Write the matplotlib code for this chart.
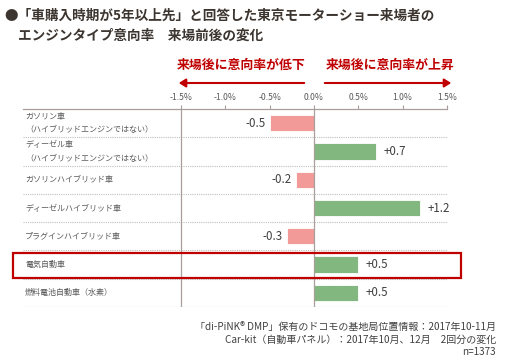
import matplotlib
matplotlib.use("Agg")
import matplotlib.pyplot as plt
from matplotlib.patches import Rectangle

plt.rcParams['font.family'] = ['Noto Sans CJK JP', 'DejaVu Sans']

categories = [
    "ガソリン車\n（ハイブリッドエンジンではない）",
    "ディーゼル車\n（ハイブリッドエンジンではない）",
    "ガソリンハイブリッド車",
    "ディーゼルハイブリッド車",
    "プラグインハイブリッド車",
    "電気自動車",
    "燃料電池自動車（水素）",
]
values = [-0.5, 0.7, -0.2, 1.2, -0.3, 0.5, 0.5]
value_labels = ["-0.5", "+0.7", "-0.2", "+1.2", "-0.3", "+0.5", "+0.5"]
tick_values = [-1.5, -1.0, -0.5, 0.0, 0.5, 1.0, 1.5]
tick_labels = ["-1.5%", "-1.0%", "-0.5%", "0.0%", "0.5%", "1.0%", "1.5%"]

W, H = 529, 364
fig = plt.figure(figsize=(W / 100, H / 100), dpi=100)

def fx(px):
    return px / W

def fy(py):
    return 1 - py / H

# axes in pixel space: x 23..447, y 109..307
ax = fig.add_axes([fx(23), fy(307), fx(447) - fx(23), fy(109) - fy(307)])
scale = (447 - 314) / 1.5
xmin = (23 - 314) / scale
ax.set_xlim(xmin, 1.5)
ax.set_ylim(len(categories) - 0.5, -0.5)

red_c = "#F19A98"
green_c = "#82B880"
axis_c = "#A89F9A"
text_c = "#595959"

ys = list(range(len(categories)))
colors = [red_c if v < 0 else green_c for v in values]
ax.barh(ys, values, height=0.58, color=colors, edgecolor="white", linewidth=0.6, zorder=3)

for y, v, lab in zip(ys, values, value_labels):
    if v < 0:
        ax.text(v - 0.05, y, lab, ha="right", va="center", fontsize=8.3, color="#404040")
    else:
        ax.text(v + 0.08, y, lab, ha="left", va="center", fontsize=8.3, color="#404040")

lx = (25 - 314) / scale
for y, c in zip(ys, categories):
    if "\n" in c:
        l1, l2 = c.split("\n")
        ax.text(lx, y - 0.24, l1, ha="left", va="center", fontsize=5.8, color=text_c)
        ax.text(lx, y + 0.24, l2, ha="left", va="center", fontsize=5.8, color=text_c)
    else:
        ax.text(lx, y, c, ha="left", va="center", fontsize=5.8, color=text_c)

# separators
for b in range(1, len(categories)):
    ax.axhline(b - 0.5, color="#BFBFBF", lw=0.8, ls=(0, (1, 1)), zorder=1)
ax.axhline(len(categories) - 0.5, color="#BFBFBF", lw=0.8, zorder=1)
ax.axvline(0, color=axis_c, lw=0.9, zorder=4)
ax.axvline(-1.5, color=axis_c, lw=0.9, zorder=2)

for s in ["left", "right", "bottom"]:
    ax.spines[s].set_visible(False)
ax.spines["top"].set_color(axis_c)
ax.spines["top"].set_linewidth(0.9)
ax.xaxis.tick_top()
ax.set_xticks(tick_values)
ax.set_xticklabels(tick_labels, fontsize=6.2, color="#595959")
ax.tick_params(axis="x", direction="out", length=3, color=axis_c, pad=2)
ax.set_yticks([])

# highlight rectangle
fig.patches.append(Rectangle((fx(13), fy(278)), fx(461) - fx(13), fy(253) - fy(278),
                             transform=fig.transFigure, fill=False,
                             edgecolor="#C00000", lw=1.6, zorder=10))

# title
fig.text(fx(4), fy(16), "●「車購入時期が5年以上先」と回答した東京モーターショー来場者の",
         fontsize=9.8, fontweight="bold", color="#3C3530", va="center", ha="left")
fig.text(fx(18), fy(36), "エンジンタイプ意向率　来場前後の変化",
         fontsize=9.8, fontweight="bold", color="#3C3530", va="center", ha="left")

# red annotations
dark_red = "#C00000"
fig.text(fx(241), fy(65), "来場後に意向率が低下", fontsize=9.3, fontweight="bold",
         color=dark_red, ha="center", va="center")
fig.text(fx(390), fy(65), "来場後に意向率が上昇", fontsize=9.3, fontweight="bold",
         color=dark_red, ha="center", va="center")
fig.add_artist(matplotlib.patches.FancyArrowPatch((fx(307), fy(83)), (fx(176), fy(83)),
               transform=fig.transFigure, arrowstyle="-|>,head_length=4,head_width=2.5",
               color=dark_red, lw=1.5))
fig.add_artist(matplotlib.patches.FancyArrowPatch((fx(322), fy(83)), (fx(454), fy(83)),
               transform=fig.transFigure, arrowstyle="-|>,head_length=4,head_width=2.5",
               color=dark_red, lw=1.5))

# footnote
fn = ["「di-PiNK® DMP」保有のドコモの基地局位置情報：2017年10-11月",
      "Car-kit（自動車パネル）：2017年10月、12月　2回分の変化",
      "n=1373"]
for i, t in enumerate(fn):
    fig.text(fx(496), fy(327 + i * 12.5), t, fontsize=7.2, color="#404040",
             ha="right", va="center")

fig.savefig("out.png", dpi=100)
